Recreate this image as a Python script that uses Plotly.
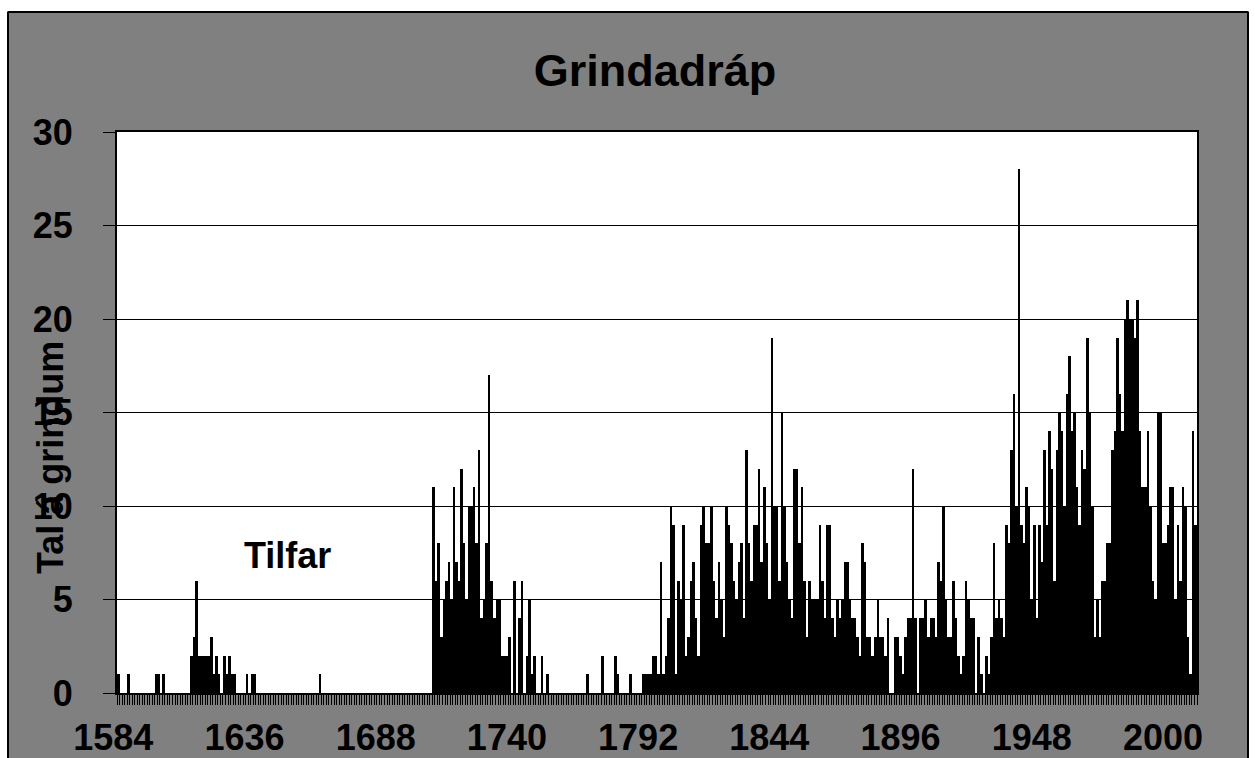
import plotly.graph_objects as go

# ── DATA ────────────────────────────────────────────────────────────────────
first_year = 1584

# number of drives per year, split by period
counts_1584_1708 = [
    1, 0, 0, 0, 1, 0, 0, 0, 0, 0, 0, 0, 0, 0, 0, 1, 1, 0, 1, 0,      # 1584-1603
    0, 0, 0, 0, 0, 0, 0, 0, 0, 2, 3, 6, 2, 2, 2, 2, 2, 3, 1, 2,      # 1604-1623
    1, 0, 2, 1, 2, 1, 1, 0, 0, 0, 0, 1, 0, 1, 1, 0, 0, 0, 0, 0,      # 1624-1643
    0, 0, 0, 0, 0, 0, 0, 0, 0, 0, 0, 0, 0, 0, 0, 0, 0, 0, 0, 0,      # 1644-1663
    1, 0, 0, 0, 0, 0, 0, 0, 0, 0, 0, 0, 0, 0, 0, 0, 0, 0, 0, 0,      # 1664-1683
    0, 0, 0, 0, 0, 0, 0, 0, 0, 0, 0, 0, 0, 0, 0, 0, 0, 0, 0, 0,      # 1684-1703
    0, 0, 0, 0, 0,                                                    # 1704-1708
]
counts_1709_1791 = [
    11, 6, 8, 3, 5, 6, 7, 5, 11, 7, 6, 12, 8, 5, 10, 10, 11, 8, 13, 4,   # 1709-1728
    5, 8, 17, 6, 4, 5, 5, 2, 2, 2, 3, 0, 6, 0, 4, 6, 0, 2, 5, 1,         # 1729-1748
    2, 0, 0, 2, 0, 1, 0, 0, 0, 0, 0, 0, 0, 0, 0, 0, 0, 0, 0, 0,          # 1749-1768
    0, 1, 0, 0, 0, 0, 0, 2, 0, 0, 0, 0, 2, 1, 0, 0, 0, 0, 1, 0,          # 1769-1788
    0, 0, 0,                                                              # 1789-1791
]
counts_1792_1881 = [
    1, 1, 1, 1, 2, 2, 1, 7, 1, 2, 4, 10, 9, 1, 6, 5, 9, 2, 3, 6,         # 1792-1811
    7, 4, 2, 9, 10, 8, 8, 10, 6, 4, 7, 5, 3, 10, 9, 8, 6, 5, 7, 8,       # 1812-1831
    4, 13, 8, 6, 9, 9, 12, 7, 11, 8, 5, 19, 10, 10, 6, 15, 10, 7, 5, 4,  # 1832-1851
    12, 12, 8, 11, 6, 3, 6, 5, 5, 5, 9, 6, 4, 9, 9, 4, 3, 5, 4, 5,       # 1852-1871
    7, 7, 5, 4, 4, 3, 2, 8, 7, 3,                                        # 1872-1881
]
counts_1882_1936 = [
    3, 2, 3, 5, 3, 3, 2, 4, 0, 0, 3, 3, 2, 1, 3, 4, 4, 12, 4, 0,         # 1882-1901
    4, 4, 5, 3, 4, 4, 3, 7, 6, 10, 5, 3, 3, 6, 4, 2, 1, 2, 6, 5,         # 1902-1921
    4, 4, 0, 3, 1, 0, 2, 1, 3, 8, 4, 5, 4, 3, 9,                         # 1922-1936
]
counts_1937_2011 = [
    8, 13, 16, 10, 28, 9, 8, 11, 10, 5, 9, 4, 9, 7, 13, 9, 14, 12, 6, 13,   # 1937-1956
    15, 14, 10, 16, 18, 14, 15, 11, 9, 13, 12, 19, 15, 10, 3, 5, 3, 6, 6, 8, # 1957-1976
    8, 13, 14, 19, 16, 14, 20, 21, 20, 20, 19, 21, 14, 11, 11, 14, 10, 6, 5, 15,  # 1977-1996
    15, 8, 8, 9, 11, 11, 5, 9, 6, 11, 10, 3, 1, 14, 9,                      # 1997-2011
]

counts = counts_1584_1708 + counts_1709_1791 + counts_1792_1881 + counts_1882_1936 + counts_1937_2011
years = list(range(first_year, first_year + len(counts)))

label_years = [1584, 1636, 1688, 1740, 1792, 1844, 1896, 1948, 2000]
y_ticks = [0, 5, 10, 15, 20, 25, 30]

# ── FIGURE ──────────────────────────────────────────────────────────────────
W, H = 1255, 758
L, R, T, B = 117, 58, 132, 65
pw, ph = W - L - R, H - T - B


def px_x(px):
    return (px - L) / pw


def px_y(py):
    return (H - B - py) / ph


font = "Liberation Sans, Arial, sans-serif"

fig = go.Figure(go.Bar(
    x=years, y=counts,
    marker=dict(color="black", line=dict(width=0)),
))

boundaries = [y - 0.5 for y in years] + [years[-1] + 0.5]


def line(x0, y0, x1, y1, color="black", width=2):
    return dict(type="line", xref="paper", yref="paper", layer="above",
                x0=px_x(x0), y0=px_y(y0), x1=px_x(x1), y1=px_y(y1),
                line=dict(color=color, width=width))


def white_box(x0, y0, x1, y1):
    return dict(type="rect", xref="paper", yref="paper", layer="above",
                x0=px_x(x0), y0=px_y(y1), x1=px_x(x1), y1=px_y(y0),
                fillcolor="white", line=dict(width=0))


fig.update_layout(
    width=W, height=H,
    margin=dict(l=L, r=R, t=T, b=B, autoexpand=False),
    paper_bgcolor="#808080",
    plot_bgcolor="white",
    bargap=0,
    showlegend=False,
    font=dict(family=font, size=36, color="black"),
    title=dict(text="<b>Grindadráp</b>", x=655 / W, xanchor="center",
               y=1 - 70 / H, yanchor="middle", yref="container",
               font=dict(size=45, family=font, color="black")),
    xaxis=dict(
        range=[years[0] - 0.5, years[-1] + 0.5],
        automargin=False,
        tickmode="array", tickvals=label_years,
        ticktext=[f"<b>{v}</b>" for v in label_years],
        ticks="", ticklabelstandoff=12, ticklabelshift=-5,
        minor=dict(tickmode="array", tickvals=boundaries, ticks="outside",
                   ticklen=10, tickcolor="black", tickwidth=1),
        showgrid=False, zeroline=False,
        showline=True, linecolor="black", linewidth=2, mirror=True,
    ),
    yaxis=dict(
        range=[0, 30], automargin=False,
        tickmode="array", tickvals=y_ticks,
        ticktext=[f"<b>{v}</b>" for v in y_ticks],
        ticks="outside", ticklen=12, tickcolor="black", tickwidth=1,
        ticklabelstandoff=23,
        showgrid=True, gridcolor="black", gridwidth=1,
        zeroline=False,
        showline=True, linecolor="black", linewidth=2, mirror=True,
    ),
    shapes=[
        # white page outside the chart frame
        white_box(-5, -5, W + 5, 11),
        white_box(-5, -5, 7, H + 5),
        white_box(1249, -5, W + 5, H + 5),
        # chart frame (bottom edge lies below the picture)
        line(8, 12, 1248, 12),
        line(8, 12, 8, H + 10),
        line(1248, 12, 1248, H + 10),
    ],
    annotations=[
        dict(text="<b>Tal á grindum</b>", textangle=-90, showarrow=False,
             xref="paper", yref="paper", x=px_x(50), y=px_y(458),
             xanchor="center", yanchor="middle",
             font=dict(size=36, family=font, color="black")),
        dict(text="<b>Tilfar</b>", showarrow=False,
             xref="paper", yref="paper", x=px_x(287), y=px_y(555),
             xanchor="center", yanchor="middle",
             font=dict(size=36, family=font, color="black")),
    ],
)

fig.write_html("out.html", config={"displayModeBar": False},
               post_script="document.body.style.margin='0';")
